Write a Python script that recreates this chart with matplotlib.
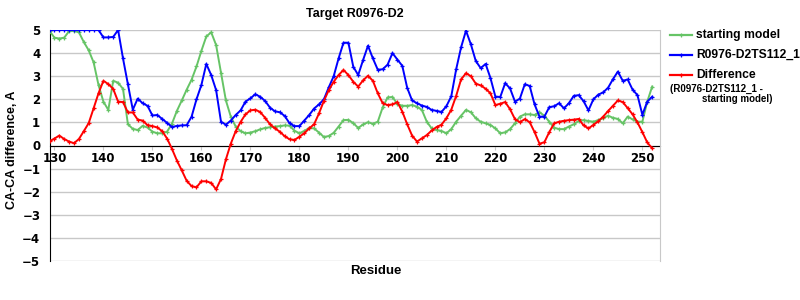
import matplotlib.pyplot as plt
from matplotlib.lines import Line2D

# Dữ liệu: số thứ tự residue và ba chuỗi giá trị
residues = list(range(129, 253))

starting_model = [
    4.96, 4.67, 4.63, 4.67, 4.95, 4.96, 4.90, 4.48, 4.12, 3.60,
    2.62, 1.90, 1.54, 2.80, 2.72, 2.45, 0.92, 0.72, 0.67, 0.85,
    0.78, 0.60, 0.53, 0.53, 0.60, 0.95, 1.50, 1.95, 2.42, 2.85,
    3.42, 4.10, 4.72, 4.90, 4.35, 3.15, 1.95, 1.25, 0.82, 0.62,
    0.53, 0.56, 0.62, 0.70, 0.76, 0.79, 0.82, 0.84, 0.87, 0.86,
    0.64, 0.53, 0.63, 0.76, 0.74, 0.56, 0.37, 0.41, 0.55, 0.82,
    1.10, 1.11, 0.97, 0.76, 0.91, 1.01, 0.94, 1.03, 1.65, 2.08,
    2.10, 1.80, 1.72, 1.72, 1.75, 1.68, 1.54, 1.03, 0.74, 0.67,
    0.63, 0.53, 0.71, 1.03, 1.29, 1.54, 1.44, 1.18, 1.03, 0.96,
    0.89, 0.74, 0.53, 0.57, 0.71, 0.96, 1.25, 1.35, 1.35, 1.32,
    1.44, 1.29, 1.03, 0.77, 0.71, 0.71, 0.82, 0.92, 1.06, 1.10,
    1.06, 1.03, 1.10, 1.18, 1.29, 1.20, 1.15, 0.96, 1.25, 1.13,
    1.03, 1.03, 1.90, 2.55,
]

ts112 = [
    5.00, 5.00, 5.00, 5.00, 5.00, 5.00, 5.00, 5.00, 5.00, 5.00,
    5.00, 4.68, 4.68, 4.70, 5.00, 3.77, 2.65, 1.55, 2.03, 1.83,
    1.72, 1.30, 1.32, 1.15, 0.98, 0.80, 0.85, 0.87, 0.88, 1.25,
    2.00, 2.62, 3.53, 3.05, 2.40, 1.03, 0.90, 1.08, 1.32, 1.52,
    1.90, 2.04, 2.22, 2.11, 1.93, 1.64, 1.48, 1.44, 1.28, 0.96,
    0.84, 0.84, 1.08, 1.32, 1.60, 1.78, 2.00, 2.52, 3.00, 3.77,
    4.45, 4.45, 3.41, 3.05, 3.70, 4.32, 3.77, 3.28, 3.30, 3.50,
    4.00, 3.72, 3.45, 2.50, 1.95, 1.83, 1.73, 1.67, 1.54, 1.50,
    1.45, 1.70, 2.13, 3.30, 4.25, 4.97, 4.38, 3.66, 3.35, 3.53,
    2.92, 2.12, 2.10, 2.70, 2.47, 1.90, 2.03, 2.65, 2.58, 1.78,
    1.25, 1.25, 1.66, 1.70, 1.83, 1.61, 1.83, 2.15, 2.18, 1.92,
    1.52, 2.00, 2.20, 2.30, 2.50, 2.87, 3.20, 2.80, 2.86, 2.42,
    2.18, 1.33, 1.90, 2.11,
]

difference = [
    0.18, 0.30, 0.43, 0.28, 0.17, 0.10, 0.28, 0.62, 0.97, 1.61,
    2.26, 2.80, 2.66, 2.45, 1.90, 1.88, 1.43, 1.43, 1.12, 1.08,
    0.88, 0.84, 0.78, 0.62, 0.30, -0.15, -0.65, -1.08, -1.53, -1.76,
    -1.81, -1.55, -1.55, -1.62, -1.90, -1.45, -0.60, 0.08, 0.62, 1.02,
    1.35, 1.52, 1.55, 1.45, 1.20, 0.92, 0.74, 0.60, 0.40, 0.27,
    0.24, 0.38, 0.53, 0.74, 0.92, 1.39, 1.93, 2.40, 2.76, 3.05,
    3.27, 3.05, 2.76, 2.55, 2.82, 3.02, 2.80, 2.26, 1.83, 1.75,
    1.78, 1.88, 1.47, 0.92, 0.43, 0.17, 0.31, 0.45, 0.65, 0.80,
    0.90, 1.18, 1.55, 2.15, 2.86, 3.13, 3.00, 2.68, 2.60, 2.46,
    2.26, 1.75, 1.81, 1.88, 1.57, 1.14, 1.01, 1.14, 1.01, 0.58,
    0.08, 0.14, 0.58, 0.96, 1.03, 1.07, 1.10, 1.12, 1.15, 0.87,
    0.74, 0.89, 1.05, 1.25, 1.49, 1.72, 1.95, 1.88, 1.62, 1.35,
    1.00, 0.58, 0.13, -0.12,
]

x_ticks = [130, 140, 150, 160, 170, 180, 190, 200, 210, 220, 230, 240, 250]
y_ticks = [-5, -4, -3, -2, -1, 0, 1, 2, 3, 4, 5]

GREEN = '#66c466'
BLUE = '#0000ff'
RED = '#ff0000'
GRID = '#c8c8c8'
FONT = 'Liberation Sans'

fig = plt.figure(figsize=(8, 3), dpi=100)
ax = fig.add_axes([50 / 800, 1 - 261 / 300, 610 / 800, 231 / 300])

ax.set_xlim(129.1, 253.6)
ax.set_ylim(-5, 5)

# Lưới ngang màu xám
for v in y_ticks:
    ax.axhline(v, color=GRID, linewidth=1, zorder=0)

style = dict(linewidth=1.4, marker='+', markersize=3, markeredgewidth=0.9)
ax.plot(residues, starting_model, color=GREEN, zorder=3, **style)
ax.plot(residues, ts112, color=BLUE, zorder=4, **style)
ax.plot(residues, difference, color=RED, zorder=5, **style)

# Trục: x cắt tại 0
ax.spines['top'].set_visible(False)
ax.spines['right'].set_color(GRID)
ax.spines['left'].set_color('black')
ax.spines['bottom'].set_position(('data', 0))
ax.spines['bottom'].set_color('black')
ax.spines['bottom'].set_zorder(2)

ax.set_xticks(x_ticks)
ax.set_yticks(y_ticks)
ax.set_yticklabels(['\u22125', '\u22124', '\u22123', '\u22122', '\u22121', '0', '1', '2', '3', '4', '5'])
ax.tick_params(axis='x', length=3, color=GRID, pad=2, labelsize=8.5)
ax.tick_params(axis='y', length=0, pad=7, labelsize=8.5)
for lab in ax.get_xticklabels() + ax.get_yticklabels():
    lab.set_fontweight('bold')

fig.text(355 / 800, 1 - 14 / 300, 'Target R0976-D2', ha='center', va='center',
         fontsize=9, fontweight='bold', family=FONT)
fig.text(12 / 800, 1 - 150 / 300, 'CA-CA difference, A', rotation=90, ha='center',
         va='center', fontsize=9, fontweight='bold', family=FONT)
fig.text(376 / 800, 1 - 271 / 300, 'Residue', ha='center', va='center',
         fontsize=9.5, fontweight='bold', family=FONT)

# Chú thích vẽ tay ở bên phải
legend_items = [('starting model', GREEN, 35), ('R0976-D2TS112_1', BLUE, 55),
                ('Difference', RED, 75)]
for text, color, ypx in legend_items:
    yf = 1 - ypx / 300
    fig.add_artist(Line2D([670 / 800, 692 / 800], [yf, yf], transform=fig.transFigure,
                          color=color, linewidth=1.6))
    fig.add_artist(Line2D([681 / 800], [yf], transform=fig.transFigure, color=color,
                          marker='+', markersize=3, markeredgewidth=0.9))
    fig.text(696 / 800, yf, text, ha='left', va='center', fontsize=8.7,
             fontweight='bold', family=FONT)
fig.text(670 / 800, 1 - 89 / 300, '(R0976-D2TS112_1 -', ha='left', va='center',
         fontsize=7, fontweight='bold', family=FONT)
fig.text(702 / 800, 1 - 99 / 300, 'starting model)', ha='left', va='center',
         fontsize=7, fontweight='bold', family=FONT)

fig.savefig('out.png', dpi=100)
